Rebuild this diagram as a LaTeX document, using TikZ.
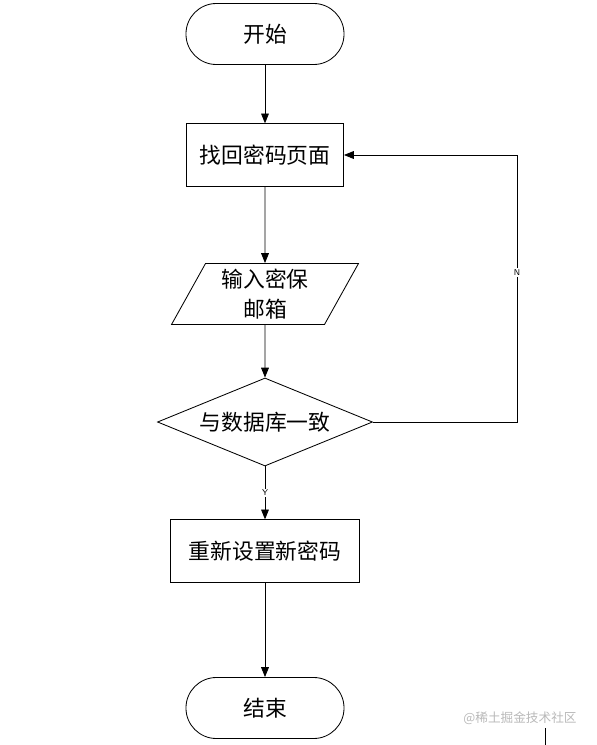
\documentclass[tikz,border=0pt]{standalone}
\usepackage{fontspec}
\newfontfamily\cjk{Noto Sans CJK SC}
\usetikzlibrary{shapes.geometric,arrows.meta}
\begin{document}
\begin{tikzpicture}[
      x=0.025cm, y=-0.025cm,
      label font/.style={font=\cjk\fontsize{15.5}{21}\selectfont},
      terminal/.style={draw, rectangle, rounded corners=0.76cm, minimum width=3.95cm, minimum height=1.525cm, label font},
      process/.style={draw, rectangle, minimum height=1.56cm, label font},
      io/.style={draw, trapezium, trapezium left angle=65, trapezium right angle=115, trapezium stretches=true, minimum width=4.675cm, minimum height=1.525cm, align=center, label font},
      decision/.style={draw, diamond, shape aspect=2.4, inner sep=0pt, minimum width=5.375cm, minimum height=2.2cm, label font},
      flow/.style={-{Triangle[length=7pt, width=5.5pt]}, line width=0.6pt},
      branch/.style={font=\sffamily\fontsize{6}{7}\selectfont, fill=white, inner sep=1pt}
    ]
    \useasboundingbox (0,0) rectangle (597,745);
    \tikzset{every path/.append style={line width=0.6pt}}

    \node[terminal] (start) at (265,34) {开始};
    \node[process, minimum width=3.925cm] (page) at (265,155) {找回密码页面};
    \node[io] (mail) at (265,294) {输入密保\\邮箱};
    \node[decision] (check) at (265,422) {与数据库一致};
    \node[process, minimum width=4.725cm] (reset) at (265,551) {重新设置新密码};
    \node[terminal] (end) at (265,708) {结束};

    \draw[flow] (start) -- (page);
    \draw[flow] (page) -- (mail);
    \draw[flow] (mail) -- (check);
    \draw[flow] (check.south) -- node[branch] {Y} (reset);
    \draw[flow] (reset) -- (end);
    \draw[flow] (check.east) -- ++(144,0) |- node[branch, pos=0.28] {N} (page.east);

    \node[text=gray!55, font=\cjk\fontsize{9}{10}\selectfont] (mark) at (520,718) {@稀土掘金技术社区};
    \draw (545,728) -- (545,745);
  \end{tikzpicture}
\end{document}
